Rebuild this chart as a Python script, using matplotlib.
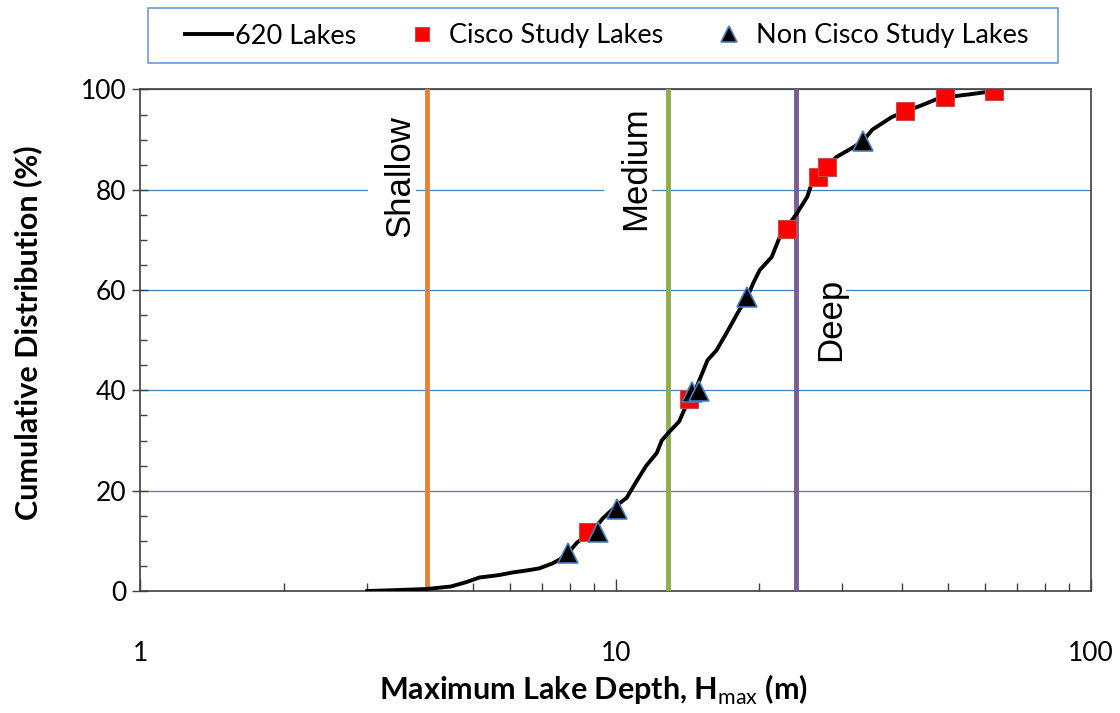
import matplotlib
matplotlib.use('Agg')
import matplotlib.pyplot as plt
from matplotlib.patches import Rectangle
from matplotlib.transforms import ScaledTranslation
from matplotlib.ticker import MultipleLocator, LogLocator, NullFormatter, FixedLocator, FixedFormatter

plt.rcParams['font.family'] = ['Lato', 'DejaVu Sans']
plt.rcParams['mathtext.fontset'] = 'custom'
plt.rcParams['mathtext.rm'] = 'Lato'
plt.rcParams['mathtext.bf'] = 'Lato:bold'

# cumulative distribution of max depth, 620 lakes
depth = [3.0, 3.5, 4.0, 4.5, 4.86, 5.17, 5.5, 5.7, 6.07, 6.5, 6.9, 7.36, 7.6, 7.93,
         8.28, 8.7, 9.0, 9.4, 9.85, 10.1, 10.55, 11.05, 11.6, 12.2, 12.5, 12.9,
         13.6, 14.0, 14.3, 14.8, 15.3, 15.6, 16.3, 17.1, 18.2, 18.9, 19.5, 20.1,
         21.3, 22.1, 22.9, 24.1, 25.3, 25.8, 26.6, 27.9, 29.1, 31.4, 33.1, 34.7,
         38.1, 40.7, 44.2, 48.0, 56.3, 62.4]
cum = [0.0, 0.2, 0.4, 0.9, 1.8, 2.7, 3.0, 3.2, 3.7, 4.1, 4.5, 5.5, 6.2, 7.5,
       9.6, 11.2, 12.3, 14.5, 16.3, 17.2, 18.6, 21.8, 25.0, 27.5, 30.0, 31.5,
       33.8, 36.5, 38.3, 40.7, 44.0, 46.0, 48.0, 51.4, 56.0, 58.5, 61.5, 64.0,
       66.6, 70.4, 72.4, 75.4, 78.6, 81.0, 82.6, 84.6, 86.5, 88.3, 89.7, 92.0,
       94.5, 95.6, 96.9, 98.3, 99.1, 99.7]

cisco_depth = [8.74, 14.3, 22.9, 26.6, 27.9, 40.7, 49.4, 62.4]
cisco_cum = [11.8, 38.3, 72.2, 82.6, 84.6, 95.7, 98.6, 99.7]

noncisco_depth = [7.93, 9.17, 10.05, 14.5, 14.95, 18.9, 33.1]
noncisco_cum = [7.6, 11.8, 16.3, 39.6, 39.9, 58.6, 89.8]

# class boundaries
bounds = [4.0, 12.9, 24.0]
bound_colors = ['#E0823A', '#8EAD4E', '#785C95']
class_names = ['Shallow', 'Medium', 'Deep']
class_pos = [(3.51, 82.7), (11.04, 84.4), (28.3, 54.2)]
box_len = [1.32, 1.40, 0.92]   # inches, white box behind each label

fig = plt.figure(figsize=(11.2, 7.13), dpi=100)
ax = fig.add_axes([0.1254, 0.1711, 0.8486, 0.7034])

ax.set_xscale('log')
ax.set_xlim(1, 100)
ax.set_ylim(0, 100)

ax.yaxis.grid(True, color='#4a7ebb', lw=0.9)
ax.set_axisbelow(True)

line, = ax.plot(depth, cum, color='black', lw=2.8, zorder=5, label='620 Lakes')
sq, = ax.plot(cisco_depth, cisco_cum, 's', color='#ff0000', mec='#c0504d', mew=0.8,
              ms=12.5, zorder=6, label='Cisco Study Lakes')
tri, = ax.plot(noncisco_depth, noncisco_cum, '^', color='black', mec='#4a7ebb', mew=1.2,
               ms=15, zorder=7, label='Non Cisco Study Lakes')

for b, c in zip(bounds, bound_colors):
    ax.axvline(b, color=c, lw=3.5, zorder=4)

for name, (px, py), bl in zip(class_names, class_pos, box_len):
    # excel text box: white, sits a little left of the glyphs
    tr = fig.dpi_scale_trans + ScaledTranslation(px, py, ax.transData)
    ax.add_patch(Rectangle((-0.32, -bl / 2), 0.48, bl, transform=tr,
                           facecolor='white', edgecolor='none', zorder=2.5))
    ax.text(px, py, name, rotation=90, ha='center', va='center', fontsize=25,
            family='Liberation Sans', zorder=3)

ax.xaxis.set_major_locator(FixedLocator([1, 10, 100]))
ax.xaxis.set_major_formatter(FixedFormatter(['1', '10', '100']))
ax.xaxis.set_minor_locator(LogLocator(base=10, subs=range(2, 10)))
ax.xaxis.set_minor_formatter(NullFormatter())
ax.yaxis.set_major_locator(MultipleLocator(20))
ax.yaxis.set_minor_locator(MultipleLocator(5))

ax.tick_params(axis='x', which='major', direction='in', length=9, width=1,
               color='#404040', pad=36, labelsize=19)
ax.tick_params(axis='x', which='minor', direction='in', length=6, width=1, color='#404040')
ax.tick_params(axis='y', which='major', direction='inout', length=12, width=1,
               color='#404040', pad=4, labelsize=19)
ax.tick_params(axis='y', which='minor', direction='in', length=5, width=1, color='#404040')

for s in ax.spines.values():
    s.set_color('#404040')
    s.set_linewidth(1.2)

ax.set_xlabel('Maximum Lake Depth, H$_{\\mathrm{max}}$ (m)', fontsize=22, fontweight='bold',
              va='center')
ax.xaxis.set_label_coords(0.477, -0.197)
ax.set_ylabel('Cumulative Distribution (%)', fontsize=22, fontweight='bold', va='center')
ax.yaxis.set_label_coords(-0.119, 0.516)

leg = fig.legend(handles=[line, sq, tri], loc='center left',
                 bbox_to_anchor=(185 / 1120, 1 - 36 / 713, 843 / 1120, 0), mode='expand',
                 ncol=3, fontsize=19.5, frameon=False, handlelength=1.75,
                 handletextpad=0.1, markerscale=0.75, borderaxespad=0, borderpad=0)

fig.add_artist(Rectangle((148 / 1120, 1 - 63 / 713), 910 / 1120, 55 / 713,
                         transform=fig.transFigure, fill=False, ec='#6a9be0', lw=1.2))

fig.savefig('out.png', dpi=100)
